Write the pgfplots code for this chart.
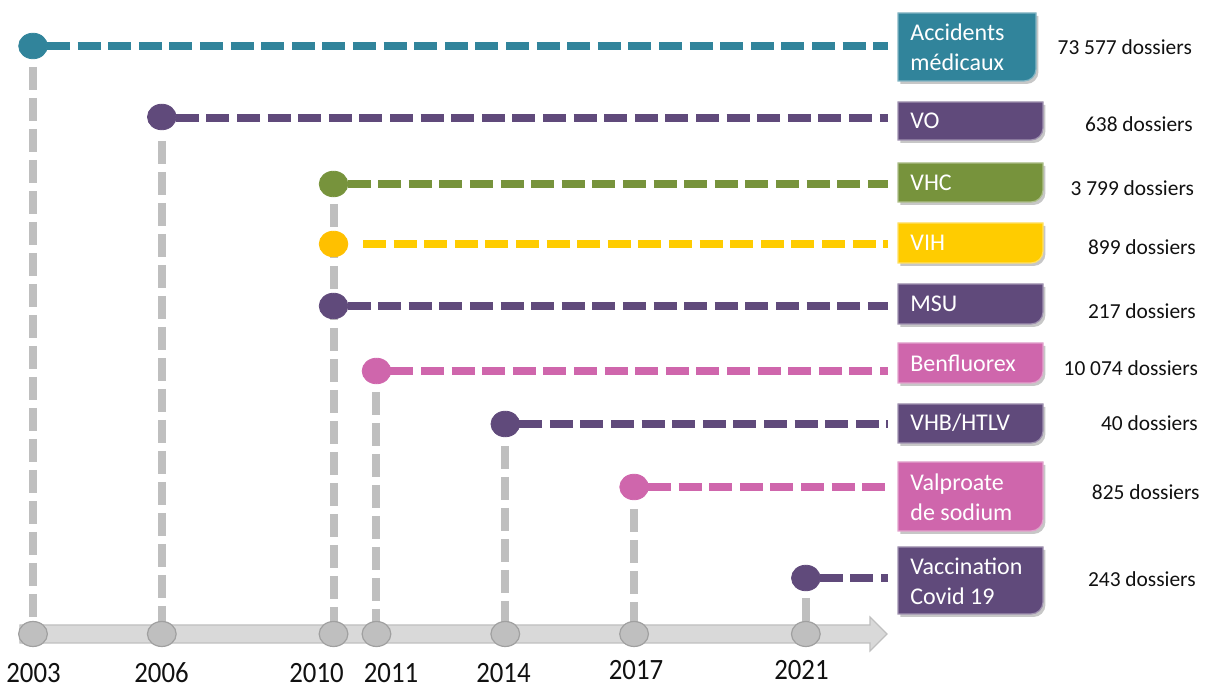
\documentclass[border=0pt]{standalone}
\usepackage{pgfplots}
\pgfplotsset{compat=1.18}
\usepackage{graphicx}
\usepackage{fontspec}
\setmainfont{Carlito}
\definecolor{cteal}{HTML}{31849B}
\definecolor{cpurple}{HTML}{604A7B}
\definecolor{cgreen}{HTML}{77933C}
\definecolor{cyellow}{HTML}{FFCC00}
\definecolor{cyellowdot}{HTML}{FFC000}
\definecolor{cpink}{HTML}{CF66AC}
\definecolor{cgray}{HTML}{BFBFBF}
\definecolor{cgraydark}{HTML}{A0A0A0}
\definecolor{cband}{HTML}{D9D9D9}
\definecolor{ctext}{HTML}{111111}
% box: #1 colour, #2 left, #3 right, #4 top, #5 bottom
\newcommand{\tbox}[5]{%
  \fill[black, opacity=0.22, xshift=1.2pt, yshift=-1.5pt] (axis cs:#2,#5) -- (axis cs:#2,#4) -- (axis cs:#3,#4) [rounded corners=6pt] -- (axis cs:#3,#5) [sharp corners] -- cycle;
  \filldraw[fill=#1, draw=#1!60!white, line width=0.6pt] (axis cs:#2,#5) -- (axis cs:#2,#4) -- (axis cs:#3,#4) [rounded corners=6pt] -- (axis cs:#3,#5) [sharp corners] -- cycle;
}
\begin{document}
\begin{tikzpicture}
\begin{axis}[
  hide axis, scale only axis,
  width=603pt, height=344pt,
  xmin=2002.2314, xmax=2030.3203,
  ymin=0, ymax=688, y dir=reverse,
  clip=false,
  vline/.style={cgray, line width=4pt, dash pattern=on 11.5pt off 4pt},
  hline/.style={#1, line width=3.7pt, dash pattern=on 11.5pt off 3.8pt},
  dot/.style={only marks, mark=*, mark size=6.4pt, mark options={xscale=1.12, fill=#1, draw=#1}},
]
% vertical grey dashed lines (event year down to the time axis)
\addplot[vline] coordinates {(2003,67) (2003,634)};
\addplot[vline] coordinates {(2006,141) (2006,634)};
\addplot[vline] coordinates {(2010,204) (2010,634)};
\addplot[vline] coordinates {(2011,392) (2011,634)};
\addplot[vline] coordinates {(2014,446) (2014,634)};
\addplot[vline] coordinates {(2017,509) (2017,634)};
\addplot[vline] coordinates {(2021,598) (2021,634)};
% time axis arrow
\addplot[fill=cband, draw=cgray, line width=0.6pt] coordinates {(2002.697,625) (2022.495,625) (2022.495,617) (2022.890,634) (2022.495,651) (2022.495,643) (2002.697,643)} -- cycle;
% year circles on the axis
\addplot[only marks, mark=*, mark size=6.25pt, mark options={xscale=1.15, fill=cgray, draw=cgraydark, line width=0.6pt}] coordinates {(2003,634) (2006,634) (2010,634) (2011,634) (2014,634) (2017,634) (2021,634)};
% horizontal dashed lines
\addplot[hline=cteal] coordinates {(2003.326,46) (2022.914,46)};
\addplot[hline=cpurple] coordinates {(2006.326,118) (2022.914,118)};
\addplot[hline=cgreen] coordinates {(2010.326,184) (2022.914,184)};
\addplot[hline=cyellow] coordinates {(2010.686,244) (2022.914,244)};
\addplot[hline=cpurple] coordinates {(2010.326,306) (2022.914,306)};
\addplot[hline=cpink] coordinates {(2011.326,371) (2022.914,371)};
\addplot[hline=cpurple] coordinates {(2014.326,424) (2022.914,424)};
\addplot[hline=cpink] coordinates {(2017.326,487) (2022.914,487)};
\addplot[hline=cpurple] coordinates {(2021.326,578) (2022.914,578)};
% event dots
\addplot[dot=cteal] coordinates {(2003,46)};
\addplot[dot=cpurple] coordinates {(2006,117) (2010,306) (2014,424) (2021,578)};
\addplot[dot=cgreen] coordinates {(2010,184)};
\addplot[dot=cyellowdot] coordinates {(2010,244)};
\addplot[dot=cpink] coordinates {(2011,371) (2017,487)};
% boxes
\tbox{cteal}{2023.147}{2026.361}{13}{81}
\tbox{cpurple}{2023.147}{2026.524}{102}{140}
\tbox{cgreen}{2023.147}{2026.524}{163}{202}
\tbox{cyellow}{2023.147}{2026.524}{223}{263}
\tbox{cpurple}{2023.147}{2026.524}{284}{324}
\tbox{cpink}{2023.147}{2026.524}{343}{383}
\tbox{cpurple}{2023.147}{2026.524}{404}{443}
\tbox{cpink}{2023.147}{2026.524}{462}{531}
\tbox{cpurple}{2023.147}{2026.524}{547}{614}
% box texts
\begin{scope}[every node/.style={anchor=west, inner sep=0pt, text=white, align=left, font=\fontsize{12}{15}\selectfont}]
\node at (axis cs:2023.426,47) {Accidents\\médicaux};
\node at (axis cs:2023.426,121) {VO};
\node at (axis cs:2023.426,183) {VHC};
\node at (axis cs:2023.426,243) {VIH};
\node at (axis cs:2023.426,304) {MSU};
\node at (axis cs:2023.426,363) {Benfluorex};
\node at (axis cs:2023.426,423) {VHB/HTLV};
\node at (axis cs:2023.426,497) {Valproate\\de sodium};
\node at (axis cs:2023.426,581) {Vaccination\\Covid 19};
\end{scope}
% dossier counts
\begin{scope}[every node/.style={anchor=east, inner sep=0pt, text=ctext, font=\fontsize{10.7}{12}\selectfont}]
\node at (axis cs:2030.00,47) {73 577 dossiers};
\node at (axis cs:2030.02,124) {638 dossiers};
\node at (axis cs:2030.05,188) {3 799 dossiers};
\node at (axis cs:2030.09,247) {899 dossiers};
\node at (axis cs:2030.09,311) {217 dossiers};
\node at (axis cs:2030.14,368) {10 074 dossiers};
\node at (axis cs:2030.14,423) {40 dossiers};
\node at (axis cs:2030.18,492) {825 dossiers};
\node at (axis cs:2030.09,579) {243 dossiers};
\end{scope}
% year labels
\begin{scope}[every node/.style={anchor=center, inner sep=0pt, text=ctext, font=\fontsize{13.4}{15}\selectfont}]
\node at (axis cs:2003.012,673) {\scalebox{1}[1.1]{2003}};
\node at (axis cs:2005.993,673) {\scalebox{1}[1.1]{2006}};
\node at (axis cs:2009.603,673) {\scalebox{1}[1.1]{2010}};
\node at (axis cs:2011.338,673) {\scalebox{1}[1.1]{2011}};
\node at (axis cs:2013.958,673) {\scalebox{1}[1.1]{2014}};
\node at (axis cs:2017.045,670) {\scalebox{1}[1.1]{2017}};
\node at (axis cs:2020.898,670) {\scalebox{1}[1.1]{2021}};
\end{scope}
\end{axis}
\pgfresetboundingbox
\useasboundingbox (current axis.south west) rectangle (current axis.north east);
\end{tikzpicture}
\end{document}
